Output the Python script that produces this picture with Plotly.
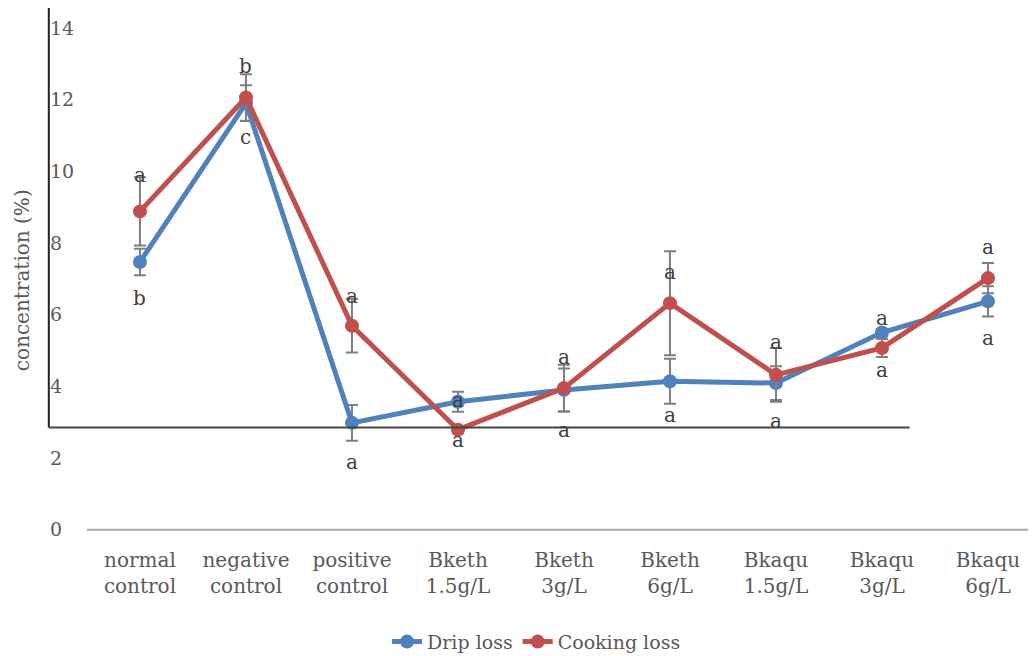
import plotly.graph_objects as go

categories = ["normal<br>control", "negative<br>control", "positive<br>control",
              "Bketh<br>1.5g/L", "Bketh<br>3g/L", "Bketh<br>6g/L",
              "Bkaqu<br>1.5g/L", "Bkaqu<br>3g/L", "Bkaqu<br>6g/L"]
drip_loss = [7.47, 11.9, 2.98, 3.57, 3.90, 4.14, 4.09, 5.50, 6.37]
drip_err = [0.37, 0.5, 0.5, 0.28, 0.6, 0.63, 0.47, 0.1, 0.42]
cooking_loss = [8.88, 12.06, 5.69, 2.79, 3.95, 6.32, 4.32, 5.07, 7.02]
cooking_err = [0.95, 0.65, 0.75, 0.1, 0.65, 1.45, 0.75, 0.25, 0.42]

upper_letters = ["a", "b", "a", "a", "a", "a", "a", "a", "a"]
upper_letter_y = [9.9, 12.94, 6.52, 3.62, 4.82, 7.19, 5.24, 5.91, 7.89]
lower_letters = ["b", "c", "a", "a", "a", "a", "a", "a", "a"]
lower_letter_y = [6.47, 10.96, 1.9, 2.5, 2.79, 3.2, 3.04, 4.46, 5.35]

y_ticks = [0, 2, 4, 6, 8, 10, 12, 14]

FONT = "DejaVu Serif"
GRAY = "#595959"

fig = go.Figure()
fig.add_trace(go.Scatter(
    x=categories, y=drip_loss, name="Drip loss", mode="lines+markers",
    line=dict(color="#4F81BD", width=5), marker=dict(size=14, color="#4F81BD"),
    error_y=dict(type="data", array=drip_err, color="#7f7f7f", thickness=2, width=6),
))
fig.add_trace(go.Scatter(
    x=categories, y=cooking_loss, name="Cooking loss", mode="lines+markers",
    line=dict(color="#C0504D", width=5), marker=dict(size=14, color="#C0504D"),
    error_y=dict(type="data", array=cooking_err, color="#7f7f7f", thickness=2, width=6),
))

annotations = []
for c, t, yv in zip(categories, upper_letters, upper_letter_y):
    annotations.append(dict(x=c, y=yv, xref="x", yref="y", text=t, showarrow=False,
                            font=dict(family=FONT, size=20, color="#404040")))
for c, t, yv in zip(categories, lower_letters, lower_letter_y):
    annotations.append(dict(x=c, y=yv, xref="x", yref="y", text=t, showarrow=False,
                            font=dict(family=FONT, size=20, color="#404040")))
annotations.append(dict(x=-0.0253, y=0.494, xref="paper", yref="paper",
                        xanchor="center", yanchor="middle",
                        text="concentration (%)", textangle=-90, showarrow=False,
                        font=dict(family=FONT, size=20, color=GRAY)))

shapes = [
    dict(type="line", xref="x", yref="y", x0=-0.5, x1=8.4, y0=0, y1=0,
         line=dict(color="#a6a6a6", width=2)),
    dict(type="line", xref="x", yref="y", x0=-0.86, x1=-0.86, y0=2.85, y1=14.556,
         line=dict(color="#222222", width=2)),
    dict(type="line", xref="x", yref="y", x0=-0.86, x1=7.26, y0=2.85, y1=2.85,
         line=dict(color="#444444", width=2)),
]

fig.update_layout(
    width=1028, height=648,
    margin=dict(l=39, r=0, t=0, b=110, autoexpand=False),
    paper_bgcolor="white", plot_bgcolor="white",
    font=dict(family=FONT, color=GRAY),
    showlegend=True,
    legend=dict(orientation="h", x=0.495, xanchor="center", y=-0.178, yanchor="middle",
                font=dict(family=FONT, size=19, color=GRAY)),
    annotations=annotations, shapes=shapes,
    xaxis=dict(type="category", range=[-0.877, 8.453], showgrid=False, showline=False,
               zeroline=False, ticks="", tickfont=dict(family=FONT, size=20, color=GRAY)),
    yaxis=dict(range=[-0.456, 14.556], tickvals=y_ticks, showgrid=False, showline=False,
               zeroline=False, ticks="", ticklabelposition="inside",
               tickfont=dict(family=FONT, size=19, color=GRAY)),
)

fig.write_html("out.html")
